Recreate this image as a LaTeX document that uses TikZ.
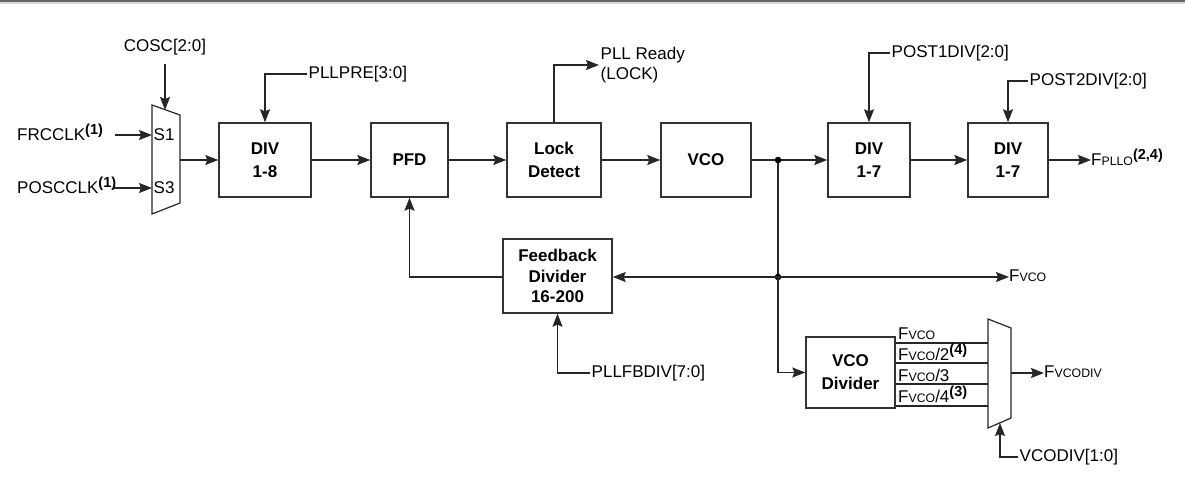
\documentclass[tikz,border=0pt]{standalone}
\usepackage{fontspec}
\setmainfont{Liberation Sans}
\usetikzlibrary{arrows.meta}
\newcommand\smc[1]{{\fontsize{12.3}{12.3}\selectfont #1}}
\newcommand\supb[1]{\raisebox{6pt}{\fontsize{14.5}{14.5}\selectfont\bfseries #1}}
\tikzset{
  blk/.style={draw=black!80, line width=1.4pt, fill=white, font=\fontsize{17}{23}\selectfont\bfseries, align=center, inner sep=0pt},
  lbl/.style={font=\fontsize{17}{20}\selectfont, inner sep=1.5pt},
  arr/.style={-{Stealth[length=13pt,width=10pt,inset=2pt]}},
  wire/.style={draw=black!85, line width=1.3pt},
}
\begin{document}
\begin{tikzpicture}[x=1pt,y=-1pt]
\useasboundingbox (0,0) rectangle (1185,487);
\fill[black!60] (0,0) rectangle (1185,2.5);
\fill[black!15] (0,2.5) rectangle (1185,4);

% input mux
\draw[wire, line width=1.2pt] (152,105) -- (180,115) -- (180,203) -- (152,214) -- cycle;
\coordinate (m1a) at (152,135);
\coordinate (m1b) at (152,188);
\coordinate (m1top) at (165,110);
\coordinate (m1out) at (180,160);
\node[lbl, anchor=west] at (152,135) {S1};
\node[lbl, anchor=west] at (152,188) {S3};
\node[lbl, anchor=west, inner sep=0pt] (frc) at (17,132) {FRCCLK\supb{(1)}};
\node[lbl, anchor=west, inner sep=0pt] (posc) at (17,185) {POSCCLK\supb{(1)}};
\coordinate (frcend) at (115,135);
\coordinate (poscend) at (114,188);
\draw[wire, arr] (frcend) -- (m1a);
\draw[wire, arr] (poscend) -- (m1b);
\node[lbl] (cosc) at (165,47) {COSC[2:0]};
\path (cosc.south) ++(0,7) coordinate (coscs);
\draw[wire, arr] (coscs) -- (m1top);

% main chain
\node[blk, minimum width=92, minimum height=74] (div8) at (265,160) {DIV\\1-8};
\node[blk, minimum width=77, minimum height=74] (pfd) at (409.5,160) {PFD};
\node[blk, minimum width=94, minimum height=74] (lock) at (554,160) {Lock\\Detect};
\node[blk, minimum width=90, minimum height=74] (vco) at (706,160) {VCO};
\node[blk, minimum width=82, minimum height=74] (div7a) at (869,160) {DIV\\1-7};
\node[blk, minimum width=80, minimum height=74] (div7b) at (1008,160) {DIV\\1-7};
\node[blk, minimum width=109, minimum height=74, font=\fontsize{17}{20.5}\selectfont\bfseries] (fb) at (557.5,276) {Feedback\\Divider\\16-200};
\node[blk, minimum width=89, minimum height=71] (vcodiv) at (850.5,372.5) {VCO\\Divider};

\draw[wire, arr] (m1out) -- (div8.west);
\draw[wire, arr] (div8.east) -- (pfd.west);
\draw[wire, arr] (pfd.east) -- (lock.west);
\draw[wire, arr] (lock.east) -- (vco.west);
\coordinate (j1) at (778,160);
\coordinate (j2) at (778,277);
\draw[wire] (vco.east) -- (j1);
\draw[wire, arr] (j1) -- (div7a.west);
\draw[wire, arr] (div7a.east) -- (div7b.west);
\node[lbl, anchor=west, inner sep=0pt] (fpllo) at (1091,157) {F\smc{PLLO}\supb{(2,4)}};
\draw[wire, arr] (div7b.east) -- (fpllo.west |- div7b.east);
\draw[wire] (j1) -- (j2);
\fill (j1) circle (3.3pt);
\fill (j2) circle (3.3pt);
\draw[wire, arr] (j2) -- (fb.east |- j2);
\node[lbl, anchor=west, inner sep=0pt] (fvco) at (1009,276) {F\smc{VCO}};
\draw[wire, arr] (j2) -- (fvco.west |- j2);
\draw[wire, arr] (fb.west |- j2) -| (pfd.south);
\draw[wire, arr] (j2) |- (vcodiv.west);

% control inputs
\node[lbl, anchor=west] (pllpre) at (307,74) {PLLPRE[3:0]};
\draw[wire, arr] (pllpre.west) -| (div8.north);
\node[lbl, anchor=west, align=left, font=\fontsize{17}{20}\selectfont] (rdy) at (599,65) {PLL Ready\\(LOCK)};
\draw[wire, arr] (lock.north) |- (rdy.west);
\node[lbl, anchor=west] (p1) at (890,53) {POST1DIV[2:0]};
\draw[wire, arr] (p1.west) -| (div7a.north);
\node[lbl, anchor=west] (p2) at (1028,81) {POST2DIV[2:0]};
\draw[wire, arr] (p2.west) -| (div7b.north);
\node[lbl, anchor=west] (fbsel) at (590,373) {PLLFBDIV[7:0]};
\draw[wire, arr] (fbsel.west) -| (fb.south);

% output mux
\draw[wire, line width=1.2pt] (988,319) -- (1011,328) -- (1011,418) -- (988,428) -- cycle;
\coordinate (ma) at (988,343);
\coordinate (mb) at (988,363);
\coordinate (mc) at (988,384);
\coordinate (md) at (988,406);
\coordinate (m2out) at (1011,373);
\coordinate (m2bot) at (1000,423);
\draw[wire, line width=1.1pt] (vcodiv.east |- ma) -- (ma);
\draw[wire, line width=1.1pt] (vcodiv.east |- mb) -- (mb);
\draw[wire, line width=1.1pt] (vcodiv.east |- mc) -- (mc);
\draw[wire, line width=1.1pt] (vcodiv.east |- md) -- (md);
\node[lbl, anchor=base west, inner sep=0pt] at (898,339) {F\smc{VCO}};
\node[lbl, anchor=base west, inner sep=0pt] at (898,360) {F\smc{VCO}/2\supb{(4)}};
\node[lbl, anchor=base west, inner sep=0pt] at (898,381) {F\smc{VCO}/3};
\node[lbl, anchor=base west, inner sep=0pt] at (898,402) {F\smc{VCO}/4\supb{(3)}};
\node[lbl, anchor=west, inner sep=0pt] (fvd) at (1044,372) {F\smc{VCODIV}};
\draw[wire, arr] (m2out) -- (fvd.west |- m2out);
\node[lbl, anchor=west] (vsel) at (1018,457) {VCODIV[1:0]};
\draw[wire, arr] (vsel.west) -| (m2bot);
\end{tikzpicture}
\end{document}
